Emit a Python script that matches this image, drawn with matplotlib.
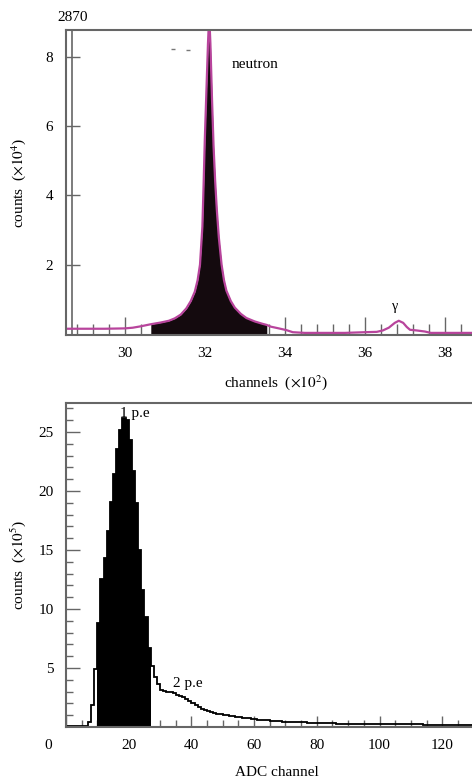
import matplotlib
matplotlib.use("Agg")
import matplotlib.pyplot as plt
import matplotlib.transforms as mtrans
import numpy as np

plt.rcParams['font.family'] = ['Liberation Serif', 'DejaVu Serif']
plt.rcParams['mathtext.fontset'] = 'stix'
plt.rcParams['font.size'] = 10

# --- top panel: neutron spectrum, channels (x100) vs counts (x1e4)
ch_top = [28.53, 29.0, 29.5, 30.0, 30.2, 30.4, 30.65, 30.9, 31.1, 31.25, 31.4, 31.54,
          31.65, 31.75, 31.82, 31.88, 31.94, 31.97, 32.0, 32.04, 32.08, 32.11, 32.14,
          32.18, 32.22, 32.26, 32.3, 32.35, 32.42, 32.48, 32.54, 32.65, 32.75, 32.9,
          33.04, 33.25, 33.45, 33.55, 33.65, 33.85, 34.04, 34.2, 34.5, 35.0, 35.5,
          36.0, 36.3, 36.45, 36.6, 36.75, 36.85, 36.96, 37.05, 37.13, 37.3, 37.5,
          37.65, 38.0, 38.68]
cnt_top = [0.15, 0.15, 0.15, 0.16, 0.18, 0.22, 0.28, 0.33, 0.38, 0.45, 0.56, 0.74,
           0.95, 1.22, 1.55, 2.0, 3.1, 4.3, 5.6, 7.0, 8.4, 9.2, 8.4,
           6.8, 5.4, 4.4, 3.6, 2.8, 2.0, 1.55, 1.25, 0.95, 0.76, 0.58,
           0.46, 0.36, 0.29, 0.26, 0.21, 0.16, 0.11, 0.05, 0.03, 0.03, 0.03,
           0.05, 0.06, 0.1, 0.18, 0.32, 0.38, 0.32, 0.2, 0.12, 0.1, 0.07,
           0.03, 0.03, 0.03]
fill_lo, fill_hi = 30.65, 33.55

# --- bottom panel: ADC spectrum, 1-channel bins from 0 to 130 (counts x1e5)
adc_edges = np.arange(0, 131)
adc_counts = [0.1, 0.1, 0.1, 0.1, 0.1, 0.1, 0.1, 0.4, 1.9, 4.9,
              8.8, 12.5, 14.3, 16.6, 19.1, 21.4, 23.6, 25.2, 26.2, 26.0,
              24.3, 21.7, 19.0, 15.0, 11.6, 9.3, 6.7, 5.2, 4.2, 3.6,
              3.1, 3.05, 3.0, 2.95, 2.85, 2.75, 2.65, 2.5, 2.35, 2.2,
              2.0, 1.85, 1.7, 1.55, 1.45, 1.35, 1.27, 1.2, 1.14, 1.08,
              1.03, 0.98, 0.93, 0.89, 0.85, 0.82, 0.78, 0.75, 0.72, 0.69,
              0.66, 0.63, 0.61, 0.58, 0.56, 0.54, 0.52, 0.5, 0.48, 0.46,
              0.45, 0.43, 0.42, 0.41, 0.4, 0.39, 0.38, 0.37, 0.36, 0.35,
              0.34, 0.33, 0.32, 0.31, 0.3, 0.3, 0.29, 0.29, 0.28, 0.28,
              0.27, 0.27, 0.26, 0.26, 0.26, 0.25, 0.25, 0.25, 0.24, 0.24,
              0.24, 0.23, 0.23, 0.23, 0.23, 0.22, 0.22, 0.22, 0.22, 0.21,
              0.21, 0.21, 0.21, 0.21, 0.2, 0.2, 0.2, 0.2, 0.2, 0.2,
              0.19, 0.19, 0.19, 0.19, 0.19, 0.18, 0.18, 0.18, 0.18, 0.18]
fill_bins = (10, 27)

fig = plt.figure(figsize=(4.72, 7.79), dpi=100)
ax1 = fig.add_axes([0.1398, 0.570, 0.8602, 0.3915])
ax2 = fig.add_axes([0.1398, 0.0668, 0.8602, 0.4159])

gray = '#666666'
magenta = '#b8449c'

# top panel
x = np.array(ch_top)
y = np.array(cnt_top)
m = (x >= fill_lo) & (x <= fill_hi)
ax1.set_axisbelow(True)
ax1.fill_between(x[m], 0, y[m], color='#140a0e', lw=0, zorder=2)
ax1.plot(x, y, color=magenta, lw=1.6, zorder=3)
ax1.plot([31.2, 31.58], [8.22, 8.2], ls='none', marker='_', ms=3, color='#777777')
ax1.axvline(28.68, color=gray, lw=1.2)
ax1.set_xlim(28.53, 38.68)
ax1.set_ylim(-0.03, 8.78)
ax1.set_xticks([30, 32, 34, 36, 38])
ax1.set_xticks(np.arange(28.8, 38.7, 0.4), minor=True)
ax1.set_yticks([2, 4, 6, 8])
ax1.tick_params(axis='x', which='major', direction='in', length=13, width=1, color=gray, pad=9, labelsize=11)
ax1.tick_params(axis='x', which='minor', direction='in', length=8, width=1, color=gray)
ax1.tick_params(axis='y', which='major', direction='in', length=10, width=1, color=gray, pad=9, labelsize=11)
ax1.set_xlabel(r'channels  ($\times10^2$)', fontsize=11)
ax1.set_ylabel(r'counts  ($\times10^4$)', fontsize=11)
ax1.xaxis.set_label_coords(0.517, -0.125)
ax1.yaxis.set_label_coords(-0.094, 0.5)
ax1.text(32.68, 7.77, 'neutron', fontsize=11, va='center')
ax1.text(36.75, 0.8, 'γ', fontsize=10, ha='center', va='center')
ax1.text(-0.02, 1.02, '2870', transform=ax1.transAxes, fontsize=11, va='bottom', ha='left')
for s in ['left', 'bottom', 'top']:
    ax1.spines[s].set_color(gray)
    ax1.spines[s].set_linewidth(1.5)
    ax1.spines[s].set_zorder(4)
ax1.spines['right'].set_visible(False)

# bottom panel
a, b = fill_bins
ax2.set_axisbelow(True)
ax2.stairs(adc_counts[a:b], adc_edges[a:b + 1], fill=True, color='black', zorder=2)
ax2.stairs(adc_counts, adc_edges, color='black', lw=1.3, zorder=3)
ax2.set_xlim(0, 129.5)
ax2.set_ylim(0, 27.46)
ax2.set_xticks(np.arange(0, 121, 20))
ax2.set_xticks(np.arange(0, 130, 5), minor=True)
ax2.set_yticks([5, 10, 15, 20, 25])
ax2.set_yticks(np.arange(1, 28, 1), minor=True)
ax2.tick_params(axis='x', which='major', direction='in', length=8, width=1, color=gray, pad=9, labelsize=11)
ax2.tick_params(axis='x', which='minor', direction='in', length=5, width=1, color=gray)
ax2.tick_params(axis='y', which='major', direction='in', length=10, width=1, color=gray, pad=9, labelsize=11)
ax2.tick_params(axis='y', which='minor', direction='in', length=5, width=1, color=gray)
ax2.set_xlabel('ADC channel', fontsize=11)
ax2.set_ylabel(r'counts  ($\times10^5$)', fontsize=11)
ax2.xaxis.set_label_coords(0.52, -0.12)
ax2.yaxis.set_label_coords(-0.094, 0.5)
ax2.text(17.2, 26.6, '1 p.e', fontsize=11, va='center')
ax2.text(34.1, 3.7, '2 p.e', fontsize=11, va='center')
for s in ['left', 'bottom', 'top']:
    ax2.spines[s].set_color(gray)
    ax2.spines[s].set_linewidth(1.5)
    ax2.spines[s].set_zorder(4)
ax2.spines['right'].set_visible(False)
# the "0" label sits left of the axis in the original
shift = mtrans.ScaledTranslation(-18 / 100, 0, fig.dpi_scale_trans)
lbl0 = ax2.get_xticklabels()[0]
lbl0.set_transform(lbl0.get_transform() + shift)

fig.savefig('out.png', dpi=100)
